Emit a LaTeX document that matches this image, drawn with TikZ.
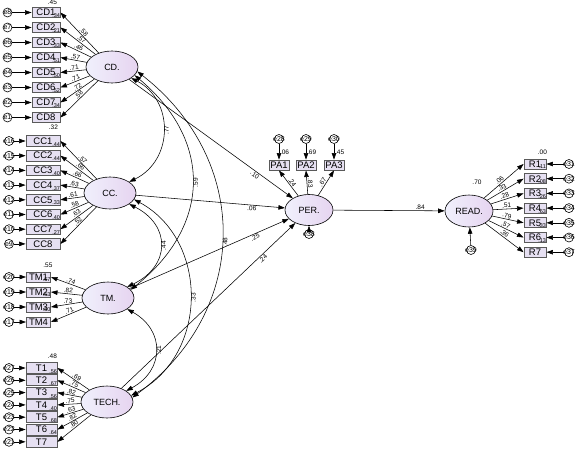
\documentclass[tikz,border=0pt]{standalone}
\usepackage{fontspec}
\setmainfont{Liberation Sans}
\usetikzlibrary{shapes.geometric,arrows.meta,calc}
\definecolor{latL}{RGB}{240,240,252}
\definecolor{latR}{RGB}{230,212,240}
\definecolor{boxF}{RGB}{230,224,242}
\definecolor{boxD}{RGB}{90,90,90}
\begin{document}
\begin{tikzpicture}[x=1pt,y=-1pt,
  obs/.style={draw=boxD, line width=0.9pt, fill=boxF, minimum height=10.5pt, inner sep=0pt, font=\fontsize{9.5}{9.5}\selectfont},
  lat/.style={ellipse, draw=black, line width=0.6pt, left color=latL, right color=latR, minimum width=52pt, minimum height=32pt, inner sep=0pt, font=\fontsize{9}{9}\selectfont},
  err/.style={circle, draw=black, fill=white, line width=0.6pt, minimum size=9pt, inner sep=0pt, label={[elab]center:#1}},
  elab/.style={font=\fontsize{7}{7}\selectfont, inner sep=0pt},
  arr/.style={-{Triangle[length=6.5pt,width=4.5pt]}, line width=0.55pt},
  dbl/.style={{Triangle[length=6.5pt,width=4.5pt]}-{Triangle[length=6.5pt,width=4.5pt]}, line width=0.55pt},
  num/.style={font=\fontsize{6.5}{6.5}\selectfont, inner sep=0.8pt},
  rsq/.style={font=\fontsize{5.5}{5.5}\selectfont, inner sep=0.3pt, anchor=south east}
]
\useasboundingbox (0,0) rectangle (586,458);

% latent variables
\node[lat] (CD) at (112,67) {CD.};
\node[lat] (CC) at (110,193) {CC.};
\node[lat] (TM) at (108,298) {TM.};
\node[lat] (TECH) at (107,402) {TECH.};
\node[lat, minimum width=48pt, minimum height=31pt] (PER) at (309,210) {PER.};
\node[lat, minimum width=48pt, minimum height=32pt] (READ) at (469,211) {READ.};

% CD indicators
\foreach \i/\e/\r/\l in {1/8/.34/.58, 2/7/.21/.57, 3/6/.33/.46, 4/5/.51/.57, 5/4/.50/.71, 6/3/.52/.71, 7/2/.34/.72, 8/1//.58} {
  \node[obs, minimum width=28pt] (CD\i) at (46,{12.5+15*(\i-1)}) {CD\i\hspace{4pt}};
  \node[rsq] at (CD\i.south east) {\r};
  \node[err=e\e] (eCD\i) at (7.5,{12.5+15*(\i-1)}) {};
  \draw[arr] (eCD\i) -- (CD\i);
  \draw[arr] (CD) -- (CD\i.east) node[num, pos=.45, sloped, above] {\l};
}
\node[num] at ($(CD1.north east)+(-8,-4.5)$) {.45};

% CC indicators
\foreach \i/\e/\r/\l in {1/16/.44/.57, 2/15/.44/.66, 3/14/.40/.66, 4/13/.37/.63, 5/12/.33/.61, 6/11/.40/.58, 7/10/.27/.63, 8/9//.52} {
  \node[obs, minimum width=34pt] (CC\i) at (43,{141+14.7*(\i-1)}) {CC\i\hspace{4pt}};
  \node[rsq] at (CC\i.south east) {\r};
  \node[err=e\e] (eCC\i) at (9,{141+14.7*(\i-1)}) {};
  \draw[arr] (eCC\i) -- (CC\i);
  \draw[arr] (CC) -- (CC\i.east) node[num, pos=.45, sloped, above] {\l};
}
\node[num] at ($(CC1.north east)+(-7,-8)$) {.32};

% TM indicators
\foreach \i/\e/\r/\l in {1/20/.67/.74, 2/19/.53/.82, 3/18/.50/.73, 4/17//.71} {
  \node[obs, minimum width=24pt, minimum height=10pt] (TM\i) at (38.5,{277+15*(\i-1)}) {TM\i\hspace{3pt}};
  \node[rsq] at (TM\i.south east) {\r};
  \node[err=e\e] (eTM\i) at (9,{277+15*(\i-1)}) {};
  \draw[arr] (eTM\i) -- (TM\i);
  \draw[arr] (TM) -- (TM\i.east) node[num, pos=.45, sloped, above] {\l};
}
\node[num] at ($(TM1.north east)+(-3,-6)$) {.55};

% TECH indicators
\foreach \i/\e/\r/\l in {1/27/.56/.69, 2/26/.67/.75, 3/25/.56/.82, 4/24/.40/.75, 5/23/.68/.63, 6/22/.64/.82, 7/21//.80} {
  \node[obs, minimum width=31pt, minimum height=11pt] (T\i) at (41.5,{368+12.3*(\i-1)}) {T\i};
  \node[rsq] at (T\i.south east) {\r};
  \node[err=e\e] (eT\i) at (9,{368+12.3*(\i-1)}) {};
  \draw[arr] (eT\i) -- (T\i);
  \draw[arr] (TECH) -- (T\i.east) node[num, pos=.45, sloped, above] {\l};
}
\node[num] at ($(T1.north east)+(-5,-6)$) {.48};

% correlations
\draw[dbl] (CD.-30) .. controls (174,100) and (174,160) .. (CC.30) node[num, pos=.5, rotate=90, anchor=north] {.77};
\draw[dbl] (CD.-20) .. controls (212,140) and (212,225) .. (TM.20) node[num, pos=.5, rotate=90, anchor=north] {.59};
\draw[dbl] (CD.-10) .. controls (251,160) and (251,310) .. (TECH.10) node[num, pos=.52, rotate=90, anchor=north] {.48};
\draw[dbl] (CC.-30) .. controls (171,225) and (171,266) .. (TM.30) node[num, pos=.5, rotate=90, anchor=north] {.44};
\draw[dbl] (CC.-15) .. controls (209,240) and (209,355) .. (TECH.15) node[num, pos=.5, rotate=90, anchor=north] {.33};
\draw[dbl] (TM.-30) .. controls (165,330) and (165,370) .. (TECH.30) node[num, pos=.5, rotate=90, anchor=north] {.21};

% structural paths
\draw[arr] (CD) -- (PER) node[num, pos=.78, sloped, below] {.10};
\draw[arr] (CC) -- (PER) node[num, pos=.78, sloped, below] {.06};
\draw[arr] (TM) -- (PER) node[num, pos=.78, sloped, below] {.25};
\draw[arr] (TECH) -- (PER) node[num, pos=.8, sloped, below] {.24};
\draw[arr] (PER) -- (READ) node[num, pos=.78, above] {.84};

% PER indicators
\foreach \i/\x/\e/\r/\l in {1/279/28/.06/.24, 2/306/29/.69/.83, 3/334/30/.45/.67} {
  \node[obs, minimum width=20pt, minimum height=10pt] (PA\i) at (\x,165) {PA\i};
  \node[err=e\e] (e\e) at (\x,139) {};
  \draw[arr] (e\e) -- (PA\i) node[num, pos=.55, right] {\r};
  \draw[arr] (PER) -- (PA\i.south) node[num, pos=.45, sloped, above] {\l};
}
\node[err=e38] (e38) at (309,234) {};
\draw[arr] (e38) -- (PER);

% READ indicators
\node[num] at ($(READ.north)+(8,-12)$) {.70};
\node[err=e39] (e39) at (471,250) {};
\draw[arr] (e39) -- (READ);
\foreach \i/\e/\r/\l in {1/31/.11/.06, 2/32/.08/.33, 3/33/.26/.28, 4/34/.63/.51, 5/35/.33/.79, 6/36/.13/.57, 7/37//.36} {
  \node[obs, minimum width=22pt, minimum height=10pt] (R\i) at (535,{164+14.7*(\i-1)}) {R\i\hspace{4pt}};
  \node[rsq] at (R\i.south east) {\r};
  \node[err=e\e] (eR\i) at (569,{164+14.7*(\i-1)}) {};
  \draw[arr] (eR\i) -- (R\i);
  \draw[arr] (READ) -- (R\i.west) node[num, pos=.45, sloped, above] {\l};
}
\node[num] at ($(R1.north east)+(-4,-6)$) {.00};
\end{tikzpicture}
\end{document}
